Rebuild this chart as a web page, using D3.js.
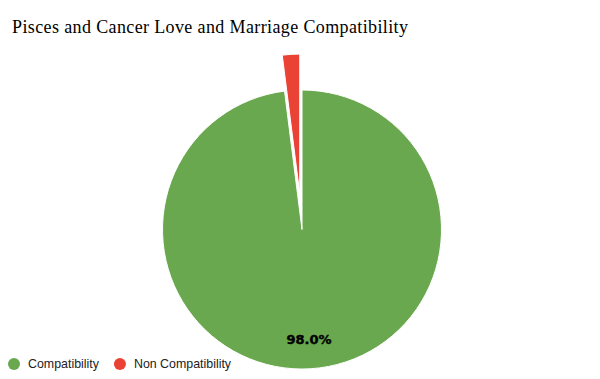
<!DOCTYPE html>
<html>
<head>
<meta charset="utf-8">
<script src="https://cdn.jsdelivr.net/npm/d3@7"></script>
<style>
  body { margin: 0; background: #fff; }
  svg { display: block; }
</style>
</head>
<body>
<figure id="pie" style="margin:0"></figure>
<script>
const title = "Pisces and Cancer Love and Marriage Compatibility";
const categories = ["Compatibility", "Non Compatibility"];
const values = [98, 2];
const colors = ["#6aa84f", "#ea4335"];
const explode = [0, 36];

const width = 600, height = 379;
const cx = 302, cy = 229.5, radius = 139.5;

const svg = d3.select("figure#pie")
  .append("svg")
  .attr("width", width)
  .attr("height", height);

// title
svg.append("text")
  .attr("x", 12)
  .attr("y", 33)
  .attr("font-family", "'Liberation Serif', serif")
  .attr("font-size", 18)
  .attr("fill", "#000")
  .attr("textLength", 396)
  .text(title);

const data = categories.map((c, i) => ({ name: c, value: values[i], color: colors[i], off: explode[i] }));

const pie = d3.pie().sort(null).value(d => d.value);
const arc = d3.arc().innerRadius(0).outerRadius(radius);
const total = d3.sum(values);

const g = svg.append("g").attr("transform", "translate(" + cx + "," + cy + ")");

g.selectAll("path")
  .data(pie(data))
  .enter()
  .append("path")
  .attr("d", arc)
  .attr("fill", d => d.data.color)
  .attr("stroke", "#fff")
  .attr("stroke-width", 1)
  .attr("transform", d => {
    const mid = (d.startAngle + d.endAngle) / 2;
    return "translate(" + (Math.sin(mid) * d.data.off) + "," + (-Math.cos(mid) * d.data.off) + ")";
  });

// percent labels (only on big slices)
g.selectAll("text.lbl")
  .data(pie(data).filter(d => d.data.value / total > 0.05))
  .enter()
  .append("text")
  .attr("class", "lbl")
  .attr("x", d => Math.sin((d.startAngle + d.endAngle) / 2) * radius * 0.79)
  .attr("y", d => -Math.cos((d.startAngle + d.endAngle) / 2) * radius * 0.79 + 5)
  .attr("text-anchor", "middle")
  .attr("font-family", "'DejaVu Sans', sans-serif")
  .attr("font-weight", "bold")
  .attr("font-size", 13)
  .attr("fill", "#000")
  .attr("stroke", "#000")
  .attr("stroke-width", 0.4)
  .text(d => d3.format(".1f")(d.data.value / total * 100) + "%");

// legend
const legend = svg.append("g").attr("transform", "translate(0,364)");
let lx = 14;
data.forEach(d => {
  legend.append("circle")
    .attr("cx", lx)
    .attr("cy", 0)
    .attr("r", 6)
    .attr("fill", d.color);
  const t = legend.append("text")
    .attr("x", lx + 14)
    .attr("y", 4)
    .attr("font-family", "'Liberation Sans', Arial, sans-serif")
    .attr("font-size", 12.4)
    .attr("fill", "#222")
    .text(d.name);
  lx += 14 + t.node().getComputedTextLength() + 21;
});
</script>
</body>
</html>
